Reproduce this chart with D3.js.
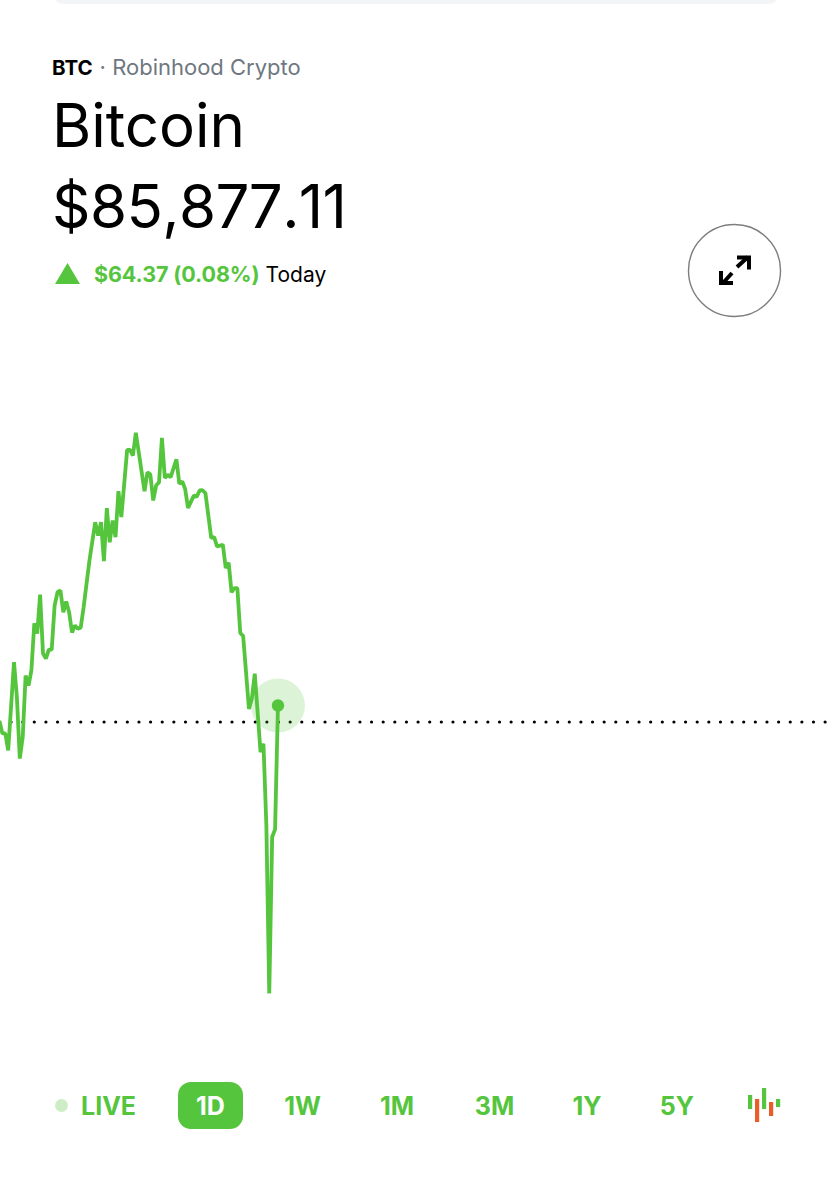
<!DOCTYPE html>
<html>
<head>
<meta charset="utf-8">
<script src="https://cdn.jsdelivr.net/npm/d3@7/dist/d3.min.js"></script>
<style>
  html, body { margin: 0; padding: 0; background: #fff; }
  svg { display: block; }
  text { font-family: Inter, "Noto Sans", sans-serif; }
</style>
</head>
<body>
<svg id="svg" width="832" height="1200"></svg>
<script>
const ticks = [0,1,2,3,5,6,7,8,9,10,11,12,13,14,15,16,17,18,19,20,21,22,23,24,25,26,27,28,29,31,
  33,34,35,36,37,38,39,40,41,42,44,45,46,47,50,51,52,53,54,55,56,57,58,59,61,62,63,64,65,67,68,69,70,71,
  73,74,75,77,78,79,80,81,82,83,84,86,87,88,90,91,92,93,94,95,96];
const prices = [85816,85768,85768,85702,86046,85909,85670,85753,85994,85955,86014,86198,86158,86310,86080,86060,86095,86095,86267,86319,86326,86241,86283,86241,86162,86189,86177,86181,86260,86442,
  86592,86540,86592,86440,86647,86514,86599,86534,86713,86612,86874,86874,86852,86941,86713,86787,86778,86677,86735,86748,86921,86765,86777,86768,86837,86742,86751,86722,86648,86696,86692,86716,86717,86705,
  86531,86534,86498,86504,86413,86434,86319,86335,86335,86160,86148,85864,85904,86001,85695,85728,85409,84754,85364,85394,85877.11];
const previousClose = 85812.74;
const lastPrice = 85877.11;
const totalTicks = 288;

const ranges = ["1D", "1W", "1M", "3M", "1Y", "5Y"];
const activeRange = "1D";

// icon candles: index, low, high, direction
const candleIdx = [0, 1, 2, 3, 4];
const candleTop = [7, 11, 0, 14, 11];
const candleBottom = [21, 34, 21, 28, 19];
const candleUp = [true, false, true, false, true];

const green = "#55c53e";
const svg = d3.select("#svg");

// Scales
const x = d3.scaleLinear().domain([0, totalTicks - 1]).range([-0.5, 832]);
const y = d3.scaleLinear().domain([previousClose, lastPrice]).range([722, 705.5]);

// Top card edge
svg.append("rect")
  .attr("x", 52).attr("y", -30)
  .attr("width", 728).attr("height", 34)
  .attr("rx", 12)
  .attr("fill", "#f3f4f7");

// Header
const sub = svg.append("text")
  .attr("x", 52).attr("y", 75)
  .attr("font-size", 20.5);
sub.append("tspan").attr("font-weight", 700).attr("fill", "#000").text("BTC");
sub.append("tspan").attr("dx", 7).attr("fill", "#6f7780").attr("font-size", 22).text("· Robinhood Crypto");

svg.append("text")
  .attr("x", 52).attr("y", 147)
  .attr("font-size", 60).attr("fill", "#000")
  .text("Bitcoin");

svg.append("text")
  .attr("x", 52).attr("y", 228)
  .attr("font-size", 60).attr("fill", "#000")
  .attr("textLength", 295)
  .attr("lengthAdjust", "spacing")
  .style("font-kerning", "none")
  .text("$85,877.11");

svg.append("path")
  .attr("d", d3.line()([[55, 284], [67.5, 263], [80, 284]]) + "Z")
  .attr("fill", green);

const change = svg.append("text")
  .attr("x", 94).attr("y", 282)
  .attr("font-size", 21.5);
change.append("tspan").attr("font-weight", 700).attr("fill", green).attr("letter-spacing", -0.1).text("$64.37 (0.08%)");
change.append("tspan").attr("dx", 6).attr("fill", "#000").attr("font-size", 21).text("Today");

// Expand button
svg.append("circle")
  .attr("cx", 734.5).attr("cy", 270.5).attr("r", 46)
  .attr("fill", "#fff")
  .attr("stroke", "#7d7d7d")
  .attr("stroke-width", 1.4);

const icon = svg.append("g").attr("fill", "none").attr("stroke", "#000").attr("stroke-width", 4);
icon.append("path").attr("d", "M737 267L748 257");
icon.append("path").attr("d", "M737 257.5H749V269.5");
icon.append("path").attr("d", "M732 273L723 283");
icon.append("path").attr("d", "M721 271V283H733");

// Baseline of previous close
svg.append("line")
  .attr("x1", -0.6).attr("x2", 832)
  .attr("y1", y(previousClose)).attr("y2", y(previousClose))
  .attr("stroke", "#000")
  .attr("stroke-width", 3.2)
  .attr("stroke-linecap", "round")
  .attr("stroke-dasharray", "0 11.63");

// Price line
const line = d3.line()
  .x(d => x(d.tick))
  .y(d => y(d.price));

const series = ticks.map((t, i) => ({ tick: t, price: prices[i] }));
const last = series[series.length - 1];

svg.append("circle")
  .attr("cx", x(last.tick)).attr("cy", y(last.price)).attr("r", 27)
  .attr("fill", green).attr("opacity", 0.2);

svg.append("path")
  .datum(series)
  .attr("d", line)
  .attr("fill", "none")
  .attr("stroke", green)
  .attr("stroke-width", 3.8)
  .attr("stroke-linejoin", "bevel");

svg.append("circle")
  .attr("cx", x(last.tick)).attr("cy", y(last.price)).attr("r", 6.2)
  .attr("fill", green);

// Range selector
svg.append("circle")
  .attr("cx", 61.5).attr("cy", 1105.5).attr("r", 6.5)
  .attr("fill", green).attr("opacity", 0.3);

svg.append("text")
  .attr("x", 81).attr("y", 1115)
  .attr("font-size", 25).attr("font-weight", 700).attr("fill", green)
  .text("LIVE");

const rangeX = d3.scaleOrdinal().domain(ranges).range([210.5, 302.5, 397, 494.5, 587, 677]);

svg.append("rect")
  .attr("x", rangeX(activeRange) - 32.5).attr("y", 1082)
  .attr("width", 65).attr("height", 47)
  .attr("rx", 13)
  .attr("fill", green);

svg.selectAll("text.range")
  .data(ranges)
  .enter()
  .append("text")
  .attr("class", "range")
  .attr("x", d => rangeX(d))
  .attr("y", 1115)
  .attr("text-anchor", "middle")
  .attr("font-size", 25)
  .attr("font-weight", 700)
  .attr("fill", d => d === activeRange ? "#fff" : green)
  .text(d => d);

// Candle icon
const candleX = d3.scaleLinear().domain([0, 4]).range([748, 776]);
const candleY = d3.scaleLinear().domain([0, 34]).range([1088, 1122]);

svg.selectAll("rect.candle")
  .data(candleIdx)
  .enter()
  .append("rect")
  .attr("class", "candle")
  .attr("x", d => candleX(d))
  .attr("y", d => candleY(candleTop[d]))
  .attr("width", 4.2)
  .attr("height", d => candleY(candleBottom[d]) - candleY(candleTop[d]))
  .attr("fill", d => candleUp[d] ? green : "#ea5d2a");
</script>
</body>
</html>
